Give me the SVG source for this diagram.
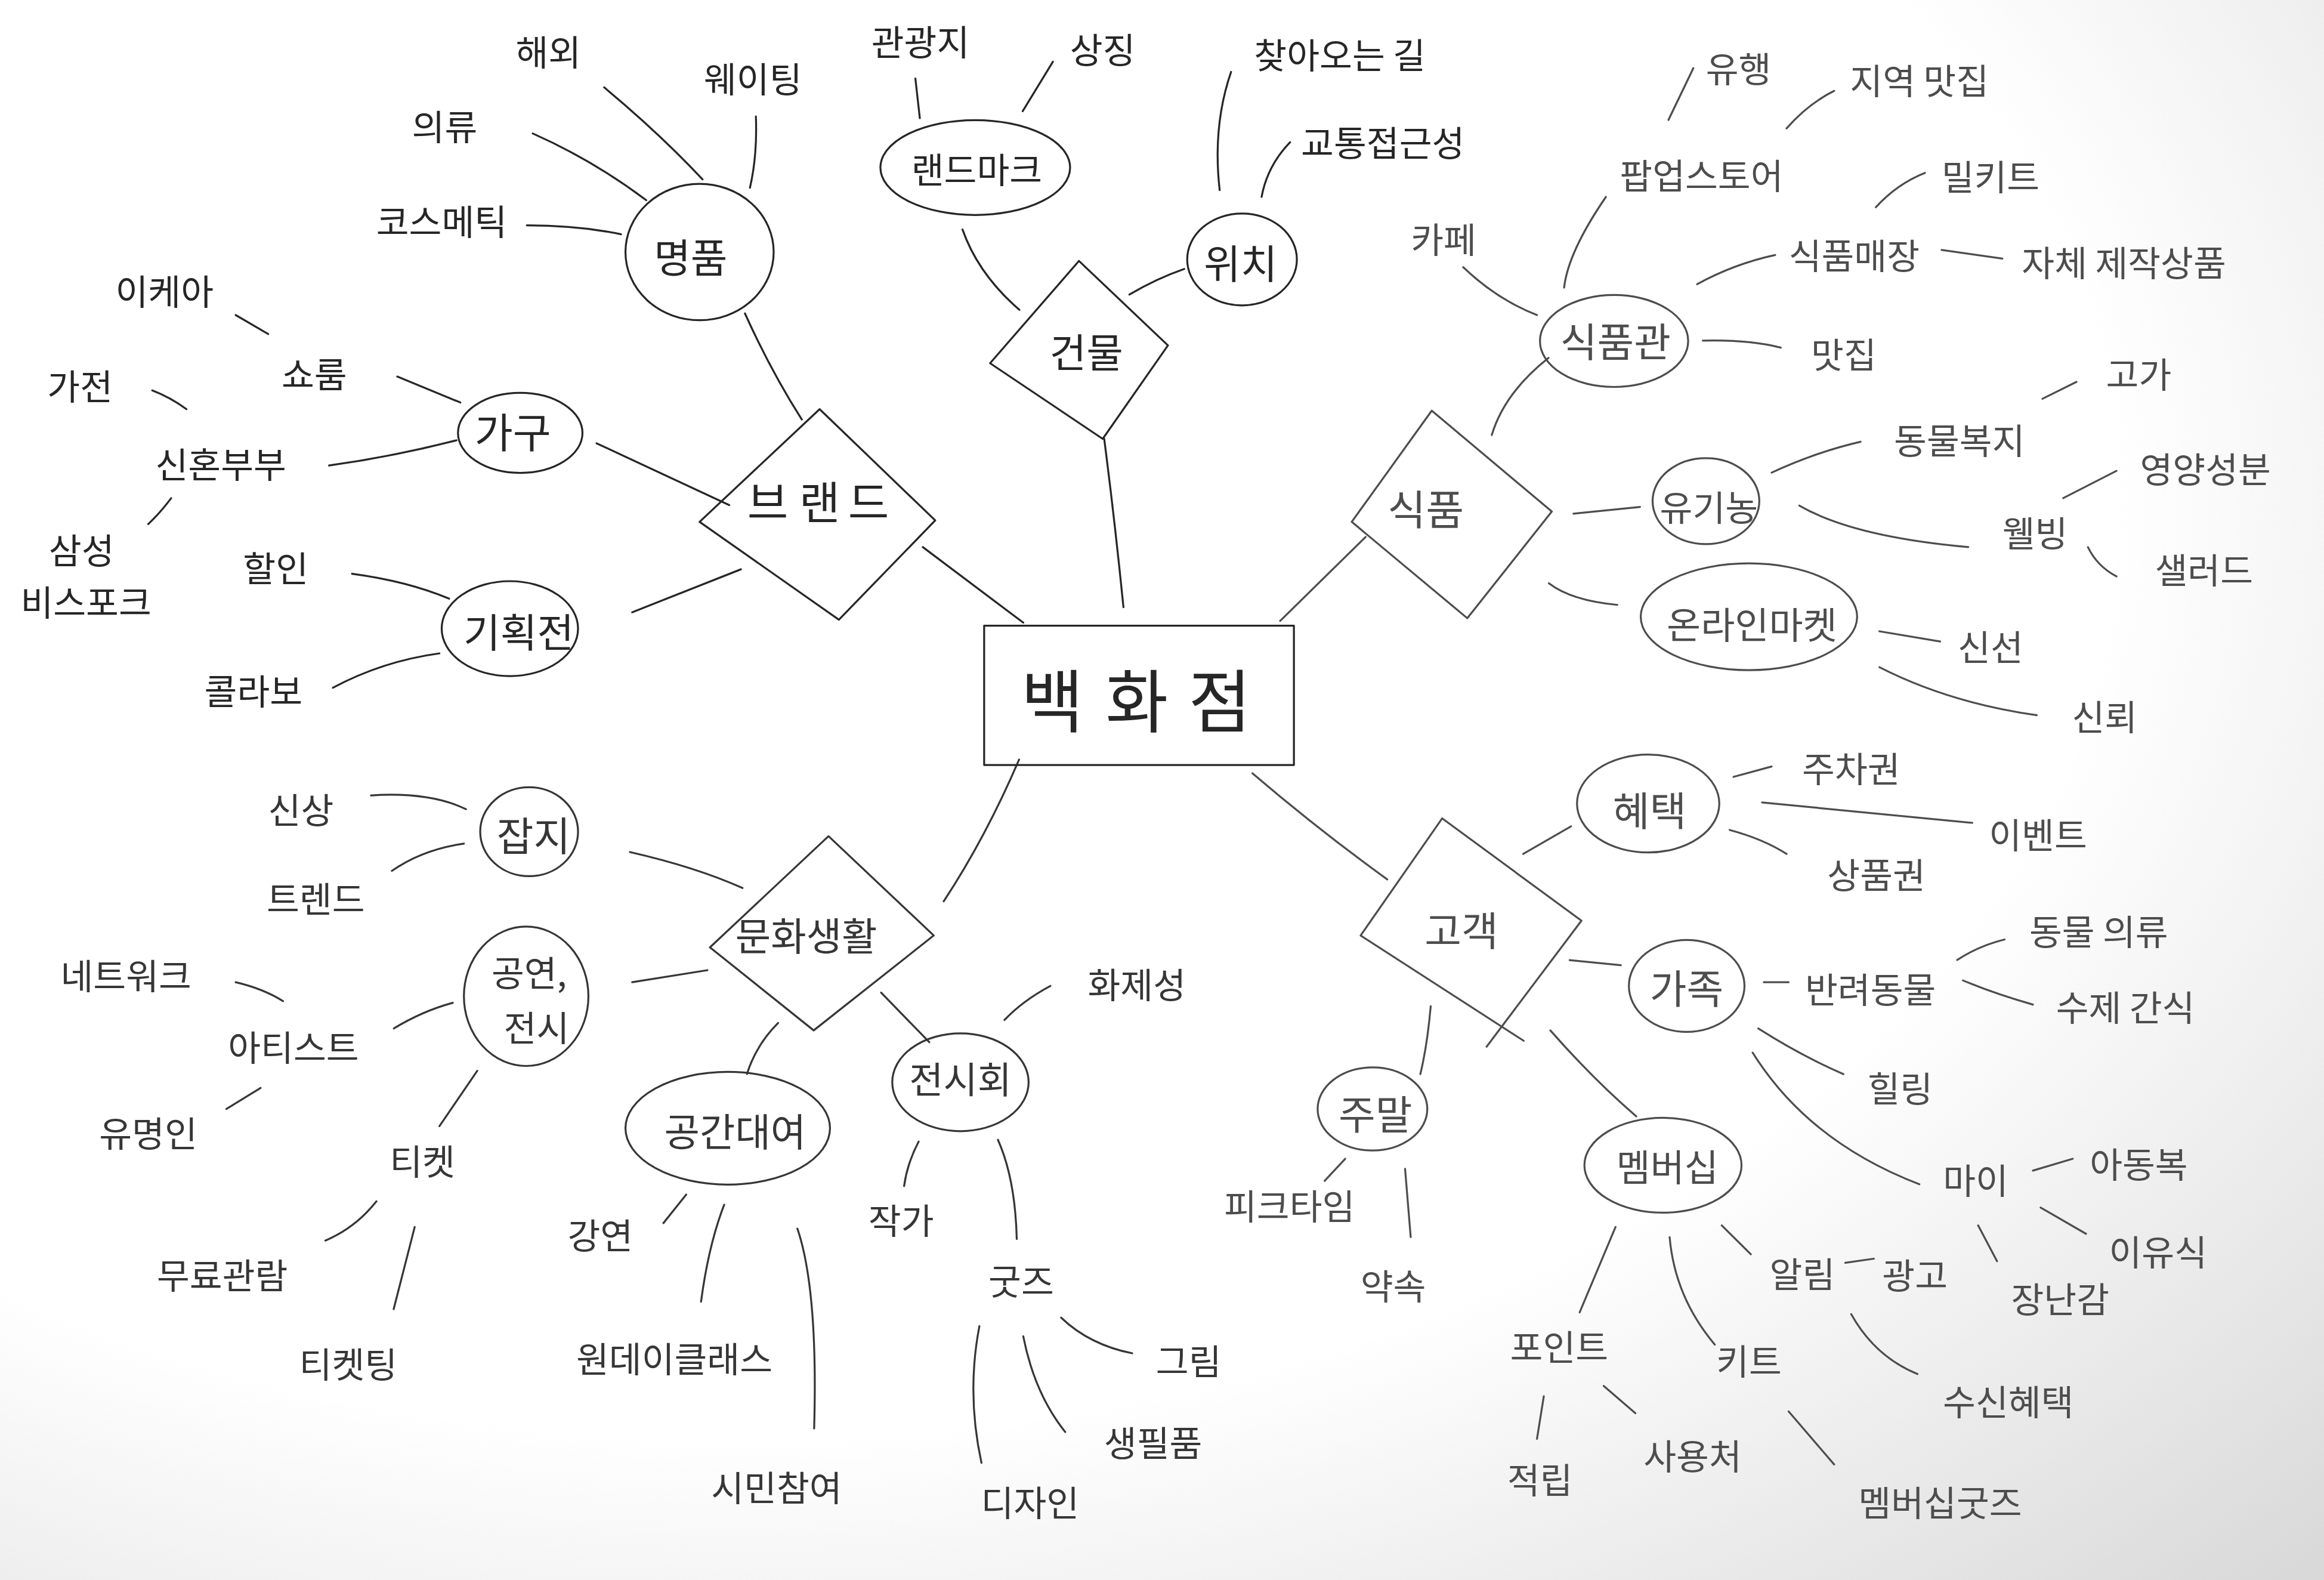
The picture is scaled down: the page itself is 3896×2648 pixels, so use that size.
<svg xmlns="http://www.w3.org/2000/svg" width="3896" height="2648" viewBox="0 0 3896 2648">
<defs>
<radialGradient id="bg" cx="0.32" cy="0.32" r="0.95">
<stop offset="0.62" stop-color="#ffffff"/>
<stop offset="1" stop-color="#d9d9d9"/>
</radialGradient>
</defs>
<style>
text{font-family:"Noto Sans CJK KR","Noto Sans CJK SC",sans-serif;text-anchor:middle;dominant-baseline:central;fill:#262626}
.l{font-size:24px}
.n{font-size:27px}
.c{font-size:46px}
.s{fill:none;stroke:#262626;stroke-width:1.3;stroke-linecap:round;stroke-linejoin:round}
.gr text{fill:#4d4d4d}
.gr .s{stroke:#4d4d4d}
.md text{fill:#363636}
.md .s{stroke:#363636}
</style>
<rect width="3896" height="2648" fill="url(#bg)"/>
<g transform="scale(2.4847)">
<g id="connectors">
<g class="s">
<path d="M407.6,58.9 Q445,90 474,121"/>
<path d="M510,78.5 Q511,105 506,126.6"/>
<path d="M359.4,90 Q400,108 436,135"/>
<path d="M355.5,152 Q390,152 419,158"/>
<path d="M502.6,211.4 Q520,250 541,283"/>
<path d="M159,212.5 L181,225.3"/>
<path d="M268,254 L310.6,271.5"/>
<path d="M102.7,263.3 Q115,268 125.8,276"/>
<path d="M222,314 Q265,308 308,297"/>
<path d="M115.5,336 Q108,346 100,353.5"/>
<path d="M402.5,299 L492,340.7"/>
<path d="M237.5,387 Q275,392 303,403.8"/>
<path d="M224.6,463.9 Q258,446 296.5,440.7"/>
<path d="M426.5,413 L499.9,384"/>
<path d="M622.6,369 L690.4,420"/>
<path d="M617.6,53 L620.6,79.7"/>
<path d="M710.4,41.6 L690,75"/>
<path d="M649.4,154.8 Q660,185 687.8,209"/>
<path d="M762,198.7 Q780,188 799,181.4"/>
<path d="M745,296 Q752,350 758,409.6"/>
<path d="M830.6,48.5 Q818,85 822.9,128.2"/>
<path d="M870.4,95.9 Q855,112 851.2,132.8"/>
</g>
<g class="gr"><g class="s">
<path d="M987.2,180.2 Q1010,202 1037,212.5"/>
<path d="M1083.5,132.8 Q1058,170 1055.3,194"/>
<path d="M1142.5,46 L1125.7,80.9"/>
<path d="M1205.4,86.6 Q1220,70 1237.5,61.3"/>
<path d="M1145,191.7 Q1170,178 1197.7,172"/>
<path d="M1265.6,139.8 Q1280,124 1298.8,116.6"/>
<path d="M1310,168.6 L1351,174.4"/>
<path d="M1148.9,229.8 Q1180,229 1201.5,234.5"/>
<path d="M1044.8,241.4 Q1015,265 1006.5,293.4"/>
<path d="M863.7,418.8 L921.4,362.2"/>
<path d="M1061.6,346.5 L1106.5,341.9"/>
<path d="M1195.3,318.8 Q1225,305 1255.3,298"/>
<path d="M1378,269 L1401,257.6"/>
<path d="M1214,341 Q1250,362 1328,369"/>
<path d="M1392,336 L1428,317.6"/>
<path d="M1408.7,369 Q1415,382 1428,388.8"/>
<path d="M1045,393.4 Q1060,405 1091.2,408"/>
<path d="M1268,425.8 L1309,432.7"/>
<path d="M1268,450 Q1315,474 1374.2,482.4"/>
<path d="M845,521.6 Q890,560 936,593.2"/>
<path d="M1027.7,576 L1060,557.4"/>
<path d="M1169.6,524 L1195.3,517"/>
<path d="M1188.9,541.3 Q1260,548 1330.7,555"/>
<path d="M1167,559.8 Q1190,566 1205.4,576"/>
<path d="M1059,647.6 L1093.6,651"/>
<path d="M1190,662.5 L1206.8,662.5"/>
<path d="M1320.5,647.5 Q1335,638 1352.5,633.7"/>
<path d="M1324.4,661.3 Q1345,670 1371.6,677.6"/>
<path d="M1186.3,693.7 Q1215,712 1243.8,724.5"/>
<path d="M1182.5,710 Q1220,770 1295,798.8"/>
<path d="M1371.6,789.6 L1398.5,781.6"/>
<path d="M1376.8,814.5 L1407.4,832.2"/>
<path d="M1334.6,826.5 L1347.4,850.7"/>
<path d="M965.3,678.7 Q963,705 958.3,724.5"/>
<path d="M1046,695 Q1075,728 1104,753"/>
<path d="M907.6,781.6 L893.7,796.5"/>
<path d="M948,788.4 L951.8,834.5"/>
<path d="M1090,827.6 L1065.8,885.2"/>
<path d="M1041.6,941.8 L1037,970.5"/>
<path d="M1082,934.8 L1103.4,953.2"/>
<path d="M1126.5,834.5 Q1130,875 1157,907"/>
<path d="M1161.6,826.5 L1181.3,846"/>
<path d="M1245,851.8 L1264.3,849"/>
<path d="M1249,886.4 Q1265,915 1293.7,926.8"/>
<path d="M1206.8,952 L1237.5,987.8"/>
</g></g>
<g class="md"><g class="s">
<path d="M687.6,512.3 Q665,565 636.7,608"/>
<path d="M425,574.7 Q470,585 501,599"/>
<path d="M250.3,536.5 Q290,534 314.4,545.8"/>
<path d="M264.4,587.4 Q285,573 313,569"/>
<path d="M426.5,662.5 L477.3,654.4"/>
<path d="M159,662.5 Q178,667 191,675.3"/>
<path d="M265.7,693.7 Q285,682 305.5,676.4"/>
<path d="M152.7,748 L175.8,733.8"/>
<path d="M322,722.3 L296.5,759.6"/>
<path d="M254,810.3 Q240,828 219.5,836.8"/>
<path d="M279.8,827.6 L265.6,883"/>
<path d="M594.5,669.5 L627,703"/>
<path d="M525,690 Q510,705 504,724.4"/>
<path d="M708.7,665 Q690,675 677.7,688"/>
<path d="M463,805.7 L447.6,825"/>
<path d="M488.6,812.6 Q478,840 473,878"/>
<path d="M538,828.7 Q552,870 549.3,963.5"/>
<path d="M619.8,770 Q612,785 610,800"/>
<path d="M673.3,768.8 Q685,795 686,835.7"/>
<path d="M715.9,888.7 Q735,907 763.9,912.8"/>
<path d="M690.4,901.4 Q698,940 718.7,965.9"/>
<path d="M660.8,894.5 Q652,940 662.2,986.7"/>
</g></g>
</g>

<g id="node-department-store"><rect class="s" x="664" y="422" width="209" height="94"/><text class="c" x="710 767 823" y="470">백화점</text></g>

<g id="node-brand"><path class="s" d="M553,276 L631,351 L566,418 L472,352 Z"/><text style="font-size:30px" x="518 553 586" y="337">브랜드</text></g>
<g id="node-luxury"><ellipse class="s" cx="472" cy="170" rx="50" ry="46"/><text class="n" x="466" y="172">명품</text></g>
<g id="label-overseas"><text class="l" x="370" y="34">해외</text></g>
<g id="label-waiting"><text class="l" x="508" y="52">웨이팅</text></g>
<g id="label-clothing"><text class="l" x="300" y="84">의류</text></g>
<g id="label-cosmetic"><text class="l" x="298" y="148">코스메틱</text></g>
<g id="node-furniture"><ellipse class="s" cx="351" cy="292" rx="42" ry="27"/><text style="font-size:28px" x="346" y="290">가구</text></g>
<g id="label-ikea"><text class="l" x="111" y="195">이케아</text></g>
<g id="label-showroom"><text class="l" x="212" y="251">쇼룸</text></g>
<g id="label-appliance"><text class="l" x="54" y="259">가전</text></g>
<g id="label-newlyweds"><text class="l" x="149" y="312">신혼부부</text></g>
<g id="label-samsung"><text class="l" x="55" y="370">삼성</text><text class="l" x="58" y="405">비스포크</text></g>
<g id="node-exhibition-sale"><ellipse class="s" cx="344" cy="424" rx="46" ry="32"/><text class="n" x="350" y="425">기획전</text></g>
<g id="label-discount"><text class="l" x="186" y="382">할인</text></g>
<g id="label-collab"><text class="l" x="171" y="465">콜라보</text></g>

<g id="node-building"><path class="s" d="M728,176 L788,233 L744,296 L668,245 Z"/><text class="n" x="733" y="236">건물</text></g>
<g id="node-landmark"><ellipse class="s" cx="658" cy="113" rx="64" ry="32"/><text class="l" x="659" y="113">랜드마크</text></g>
<g id="label-tourist"><text class="l" x="621" y="27">관광지</text></g>
<g id="label-symbol"><text class="l" x="744" y="32">상징</text></g>
<g id="node-location"><ellipse class="s" cx="838" cy="175" rx="37" ry="31"/><text class="n" x="837" y="176">위치</text></g>
<g id="label-directions"><text class="l" x="904" y="36">찾아오는 길</text></g>
<g id="label-access"><text class="l" x="933" y="95">교통접근성</text></g>

<g class="gr">
<g id="node-food"><path class="s" d="M966,277 L1047,345 L990,417 L912,352 Z"/><text style="font-size:28px" x="962" y="342">식품</text></g>
<g id="node-food-hall"><ellipse class="s" cx="1089" cy="230" rx="50" ry="31"/><text class="n" x="1090" y="229">식품관</text></g>
<g id="label-cafe"><text class="l" x="974" y="160">카페</text></g>
<g id="label-popup"><text class="l" x="1148" y="117">팝업스토어</text></g>
<g id="label-trend2"><text class="l" x="1173" y="45">유행</text></g>
<g id="label-local"><text class="l" x="1295" y="53">지역 맛집</text></g>
<g id="label-foodstore"><text class="l" x="1251" y="171">식품매장</text></g>
<g id="label-mealkit"><text class="l" x="1343" y="118">밀키트</text></g>
<g id="label-pb"><text class="l" x="1433" y="176">자체 제작상품</text></g>
<g id="label-restaurant"><text class="l" x="1244" y="238">맛집</text></g>
<g id="node-organic"><ellipse class="s" cx="1151" cy="338" rx="36" ry="29"/><text class="l" x="1153" y="341">유기농</text></g>
<g id="label-welfare"><text class="l" x="1322" y="296">동물복지</text></g>
<g id="label-premium"><text class="l" x="1443" y="251">고가</text></g>
<g id="label-wellbeing"><text class="l" x="1373" y="358">웰빙</text></g>
<g id="label-nutrition"><text class="l" x="1488" y="315">영양성분</text></g>
<g id="label-salad"><text class="l" x="1487" y="383">샐러드</text></g>
<g id="node-online"><ellipse class="s" cx="1180" cy="416" rx="73" ry="36"/><text class="l" x="1182" y="420" style="font-size:25px">온라인마켓</text></g>
<g id="label-fresh"><text class="l" x="1343" y="435">신선</text></g>
<g id="label-trust"><text class="l" x="1420" y="482">신뢰</text></g>

<g id="node-customer"><path class="s" d="M1003,706 L1067,621 L973,552 L918,631 L1028,702"/><text class="n" x="986" y="626">고객</text></g>
<g id="node-benefit"><ellipse class="s" cx="1112" cy="542" rx="48" ry="33"/><text class="n" x="1113" y="545">혜택</text></g>
<g id="label-parking"><text class="l" x="1249" y="517">주차권</text></g>
<g id="label-event"><text class="l" x="1375" y="562">이벤트</text></g>
<g id="label-voucher"><text class="l" x="1266" y="589">상품권</text></g>
<g id="node-family"><ellipse class="s" cx="1138" cy="665" rx="39" ry="31"/><text class="n" x="1138" y="665">가족</text></g>
<g id="label-pet"><text class="l" x="1262" y="666">반려동물</text></g>
<g id="label-petwear"><text class="l" x="1416" y="627">동물 의류</text></g>
<g id="label-snack"><text class="l" x="1434" y="678">수제 간식</text></g>
<g id="label-healing"><text class="l" x="1282" y="733">힐링</text></g>
<g id="label-child"><text class="l" x="1333" y="795">마이</text></g>
<g id="label-kidswear"><text class="l" x="1443" y="784">아동복</text></g>
<g id="label-babyfood"><text class="l" x="1456" y="843">이유식</text></g>
<g id="label-toy"><text class="l" x="1390" y="875">장난감</text></g>
<g id="node-weekend"><ellipse class="s" cx="926" cy="748" rx="37" ry="28"/><text class="n" x="928" y="750">주말</text></g>
<g id="label-peak"><text class="l" x="870" y="812">피크타임</text></g>
<g id="label-promise"><text class="l" x="940" y="866">약속</text></g>
<g id="node-membership"><ellipse class="s" cx="1122" cy="786" rx="53" ry="32"/><text class="l" x="1125" y="786" style="font-size:25px">멤버십</text></g>
<g id="label-point"><text class="l" x="1052" y="907">포인트</text></g>
<g id="label-accumulate"><text class="l" x="1039" y="997">적립</text></g>
<g id="label-usage"><text class="l" x="1142" y="981">사용처</text></g>
<g id="label-kit"><text class="l" x="1180" y="917">키트</text></g>
<g id="label-goods2"><text class="l" x="1309" y="1012">멤버십굿즈</text></g>
<g id="label-notice"><text class="l" x="1216" y="858">알림</text></g>
<g id="label-ad"><text class="l" x="1292" y="859">광고</text></g>
<g id="label-receive"><text class="l" x="1355" y="944">수신혜택</text></g>
</g>

<g class="md">
<g id="node-culture"><path class="s" d="M559,564 L630,631 L549,695 L479,639 Z"/><text class="l" x="544" y="630" style="font-size:26px">문화생활</text></g>
<g id="node-magazine"><ellipse class="s" cx="357" cy="561" rx="33" ry="30"/><text class="n" x="360" y="562">잡지</text></g>
<g id="label-new"><text class="l" x="203" y="545">신상</text></g>
<g id="label-trend"><text class="l" x="213" y="605">트렌드</text></g>
<g id="node-performance"><ellipse class="s" cx="355" cy="672" rx="42" ry="47"/><text class="l" x="357" y="655">공연,</text><text class="l" x="362" y="692">전시</text></g>
<g id="label-network"><text class="l" x="85" y="657">네트워크</text></g>
<g id="label-artist"><text class="l" x="198" y="705">아티스트</text></g>
<g id="label-celebrity"><text class="l" x="100" y="763">유명인</text></g>
<g id="label-ticket"><text class="l" x="285" y="782">티켓</text></g>
<g id="label-free"><text class="l" x="150" y="859">무료관람</text></g>
<g id="label-ticketing"><text class="l" x="235" y="919">티켓팅</text></g>
<g id="node-rental"><ellipse class="s" cx="491" cy="761" rx="69" ry="38"/><text class="l" x="496" y="762" style="font-size:26px">공간대여</text></g>
<g id="label-lecture"><text class="l" x="405" y="832">강연</text></g>
<g id="label-oneday"><text class="l" x="455" y="915">원데이클래스</text></g>
<g id="label-citizen"><text class="l" x="524" y="1002">시민참여</text></g>
<g id="node-exhibition"><ellipse class="s" cx="648" cy="730" rx="46" ry="33"/><text class="l" x="648" y="727" style="font-size:25px">전시회</text></g>
<g id="label-buzz"><text class="l" x="767" y="663">화제성</text></g>
<g id="label-author"><text class="l" x="608" y="822">작가</text></g>
<g id="label-goods"><text class="l" x="689" y="863">굿즈</text></g>
<g id="label-picture"><text class="l" x="802" y="917">그림</text></g>
<g id="label-daily"><text class="l" x="778" y="972">생필품</text></g>
<g id="label-design"><text class="l" x="695" y="1012">디자인</text></g>
</g>
</g>
</svg>
